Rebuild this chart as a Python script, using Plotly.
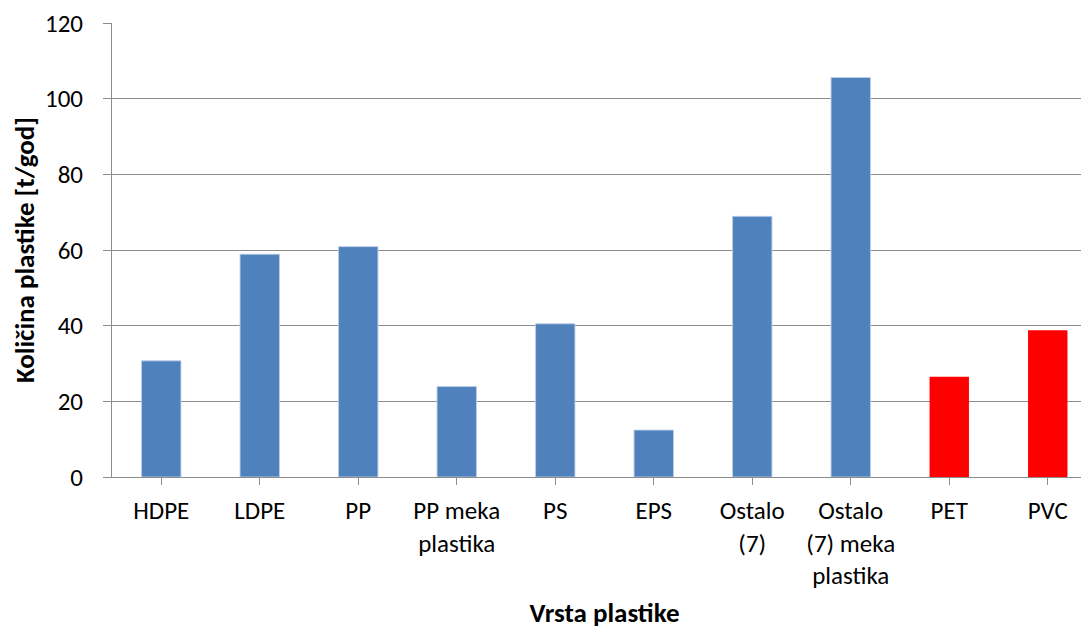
import plotly.graph_objects as go

categories = ["HDPE", "LDPE", "PP", "PP meka<br>plastika", "PS", "EPS",
              "Ostalo<br>(7)", "Ostalo<br>(7) meka<br>plastika", "PET", "PVC"]
values = [30.7, 58.9, 60.9, 23.9, 40.5, 12.4, 68.9, 105.6, 26.5, 38.8]
highlighted = ["PET", "PVC"]

y_ticks = [0, 20, 40, 60, 80, 100, 120]

BLUE = "#4F81BD"
RED = "#FF0000"
colors = [RED if c in highlighted else BLUE for c in categories]
line_colors = ["rgba(0,0,0,0)" if c in highlighted else "rgba(185,205,229,0.9)" for c in categories]

FONT = "Carlito, Calibri, Lato, sans-serif"
GRID = "#8c8c8c"

fig = go.Figure(go.Bar(
    x=list(range(len(categories))),
    y=values,
    width=0.4,
    marker=dict(color=colors, line=dict(color=line_colors, width=1)),
    hoverinfo="skip",
))

fig.update_layout(
    width=1089, height=630,
    margin=dict(l=104, r=0, t=15, b=161),
    paper_bgcolor="white", plot_bgcolor="white",
    showlegend=False,
    font=dict(family=FONT, size=25, color="black"),
)

fig.update_xaxes(
    tickmode="array",
    tickvals=list(range(len(categories))),
    ticktext=categories,
    range=[-0.5, 9.5],
    showline=True, linecolor=GRID, linewidth=1,
    ticks="outside", tickson="boundaries", ticklen=7, tickcolor=GRID, tickwidth=1,
    showgrid=False, zeroline=False,
    tickfont=dict(family=FONT, size=25, color="black"),
    ticklabelstandoff=4,
    title=dict(text="Vrsta plastike", font=dict(family=FONT, size=27, color="black", weight="bold"), standoff=13),
    automargin=False,
)

fig.update_yaxes(
    range=[0, 120.02],
    tickmode="array", tickvals=y_ticks, ticktext=[str(t) for t in y_ticks],
    showline=True, linecolor=GRID, linewidth=1,
    ticks="outside", ticklen=8, tickcolor=GRID, tickwidth=1,
    showgrid=True, gridcolor=GRID, gridwidth=1,
    zeroline=False,
    tickfont=dict(family=FONT, size=25, color="black"),
    ticklabelstandoff=15,
    ticklabeloverflow="allow",
    title=dict(text="Količina plastike [t/god]", font=dict(family=FONT, size=27, color="black", weight="bold"), standoff=6),
    automargin=False,
)

fig.write_html("out.html")
